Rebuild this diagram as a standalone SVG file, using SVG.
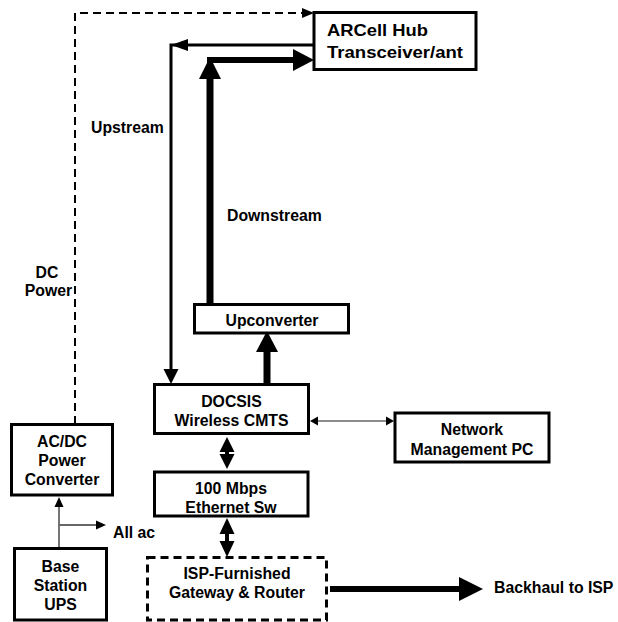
<svg xmlns="http://www.w3.org/2000/svg" width="618" height="622" viewBox="0 0 618 622">
<style>
  text { font-family: "Liberation Sans", Arial, sans-serif; font-weight: bold; font-size: 15.8px; fill: #000; }
  .c { text-anchor: middle; }
  .box { fill: #fff; stroke: #000; stroke-width: 3; }
  .dbox { fill: #fff; stroke: #000; stroke-width: 3; stroke-dasharray: 8 5; }
  .ln { fill: none; stroke: #000; }
  .gray { fill: none; stroke: #666; }
  .ah { fill: #000; }
</style>
<g id="connectors">
  <!-- DC power dashed -->
  <polyline class="ln" points="75,424 75,13 303,13" stroke-width="2" stroke-dasharray="8 5"/>
  <polygon class="ah" points="314,13 302,8 302,18"/>
  <!-- Upstream -->
  <polyline class="ln" points="314,45 171,45 171,370" stroke-width="3"/>
  <polygon class="ah" points="171,45 188,39 188,51"/>
  <polygon class="ah" points="171,384 163.5,369 178.5,369"/>
  <!-- Downstream -->
  <line class="ln" x1="210" y1="305" x2="210" y2="75" stroke-width="7"/>
  <polygon class="ah" points="210,57 199,79 221,79"/>
  <line class="ln" x1="207" y1="60" x2="296" y2="60" stroke-width="6"/>
  <polygon class="ah" points="314,60 293,49 293,71"/>
  <!-- DOCSIS to Upconverter -->
  <line class="ln" x1="267" y1="384" x2="267" y2="348" stroke-width="7"/>
  <polygon class="ah" points="267,331 256,352 278,352"/>
  <!-- DOCSIS to Network -->
  <line class="gray" x1="315" y1="421" x2="388" y2="421" stroke-width="1.3"/>
  <polygon class="ah" points="310,421 318,416.5 318,425.5"/>
  <polygon class="ah" points="394,421 386,416.5 386,425.5"/>
  <!-- DOCSIS to Ethernet -->
  <line class="ln" x1="227" y1="445" x2="227" y2="460" stroke-width="4"/>
  <polygon class="ah" points="227,437 219.5,452 234.5,452"/>
  <polygon class="ah" points="227,469 219.5,454 234.5,454"/>
  <!-- Ethernet to ISP -->
  <line class="ln" x1="227" y1="528" x2="227" y2="548" stroke-width="4"/>
  <polygon class="ah" points="227,518 219.5,534 234.5,534"/>
  <polygon class="ah" points="227,557 219.5,541 234.5,541"/>
  <!-- Backhaul -->
  <line class="ln" x1="330" y1="589" x2="462" y2="589" stroke-width="6"/>
  <polygon class="ah" points="483,589 459,577 459,601"/>
  <!-- AC power -->
  <line class="gray" x1="59" y1="548" x2="59" y2="505" stroke-width="1.8"/>
  <polygon class="ah" points="59,497 54.5,507 63.5,507"/>
  <line class="gray" x1="59" y1="525" x2="98" y2="525" stroke-width="1.8"/>
  <polygon class="ah" points="106,525 96,520.5 96,529.5"/>
</g>
<g id="labels">
  <text x="91" y="133">Upstream</text>
  <text x="227" y="221">Downstream</text>
  <text class="c" x="47" y="278">DC</text>
  <text class="c" x="48.5" y="296">Power</text>
  <text x="113" y="538">All ac</text>
  <text x="494" y="593">Backhaul to ISP</text>
</g>
<g id="hub">
  <rect class="box" x="314" y="12.5" width="162" height="57"/>
  <text x="327" y="35.7" style="font-size:16.5px" textLength="101" lengthAdjust="spacingAndGlyphs">ARCell Hub</text>
  <text x="327" y="58.3" style="font-size:16.5px" textLength="136" lengthAdjust="spacingAndGlyphs">Transceiver/ant</text>
</g>
<g id="upconverter">
  <rect class="box" x="194.5" y="304.5" width="154" height="28.5"/>
  <text class="c" x="272" y="326">Upconverter</text>
</g>
<g id="docsis">
  <rect class="box" x="154.5" y="384.5" width="154" height="49"/>
  <text class="c" x="231.5" y="407">DOCSIS</text>
  <text class="c" x="231.5" y="426">Wireless CMTS</text>
</g>
<g id="network">
  <rect class="box" x="395" y="413" width="154" height="49"/>
  <text class="c" x="472" y="435">Network</text>
  <text class="c" x="472" y="455">Management PC</text>
</g>
<g id="ethernet">
  <rect class="box" x="154.5" y="472" width="153.5" height="44"/>
  <text class="c" x="231" y="494">100 Mbps</text>
  <text class="c" x="231" y="512.5">Ethernet Sw</text>
</g>
<g id="isp">
  <rect class="dbox" x="147.5" y="557.5" width="179" height="62.5"/>
  <text class="c" x="237" y="579">ISP-Furnished</text>
  <text class="c" x="237" y="598">Gateway &amp; Router</text>
</g>
<g id="acdc">
  <rect class="box" x="11.5" y="424.5" width="101" height="70.5"/>
  <text class="c" x="62" y="447">AC/DC</text>
  <text class="c" x="62" y="466">Power</text>
  <text class="c" x="62" y="485">Converter</text>
</g>
<g id="ups">
  <rect class="box" x="14.5" y="548.5" width="92" height="71.5"/>
  <text class="c" x="60.5" y="571.5">Base</text>
  <text class="c" x="60.5" y="591">Station</text>
  <text class="c" x="60.5" y="610">UPS</text>
</g>
</svg>
